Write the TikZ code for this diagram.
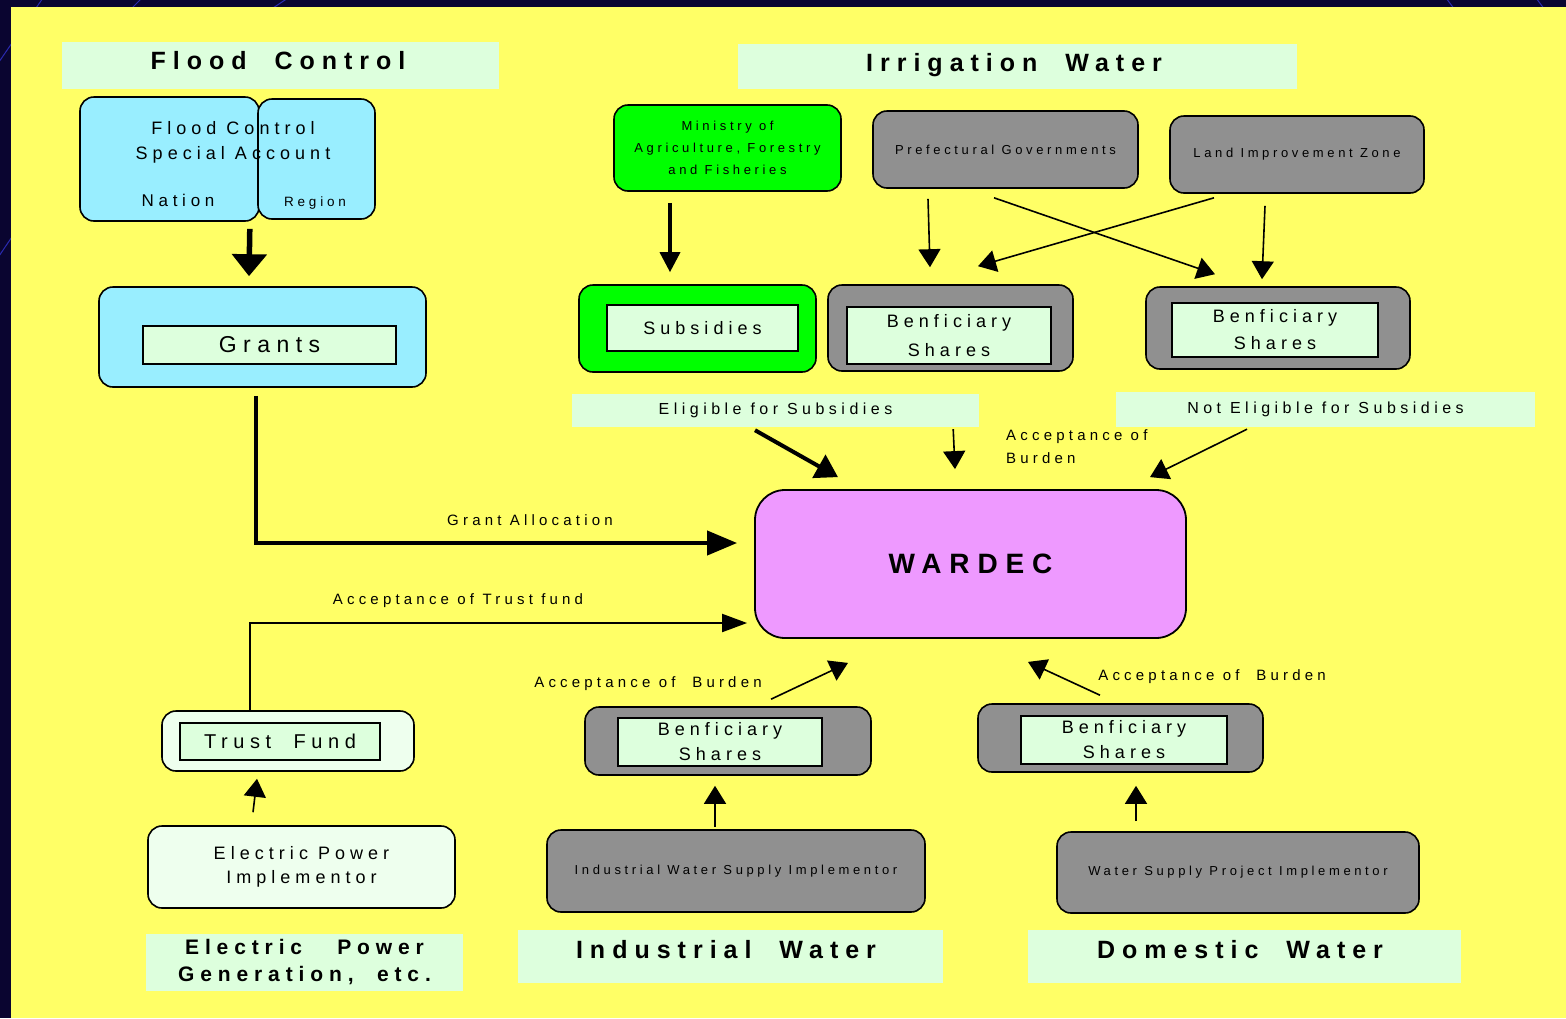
\documentclass[tikz,border=0pt]{standalone}
\usepackage{fontspec}
\setmainfont{Liberation Sans}
\newfontfamily\jfont[LetterSpace=28]{Liberation Sans}
\usetikzlibrary{arrows.meta,calc}
\definecolor{navy}{HTML}{0A0530}
\definecolor{streak}{HTML}{2A2AB0}
\definecolor{bgyellow}{HTML}{FFFF66}
\definecolor{paleg}{HTML}{DDFFDD}
\definecolor{mint}{HTML}{EEFFEE}
\definecolor{skyb}{HTML}{99EEFF}
\definecolor{leaf}{HTML}{00FF00}
\definecolor{stone}{HTML}{909090}
\definecolor{lilac}{HTML}{EE99FF}
\newcommand\jf[2]{\jfont\fontsize{#1}{#2}\selectfont}

\begin{document}
\begin{tikzpicture}[x=1pt,y=-1pt,
  every node/.style={font=\jfont,inner sep=0pt,align=center},
  band/.style={fill=paleg},
  rbox/.style={draw,line width=1.6pt,rounded corners=14pt},
  ibox/.style={draw,line width=1.8pt,fill=paleg},
  arr/.style={line width=1.6pt,-{Triangle[length=18pt,width=22pt]}},
  fat/.style={line width=4pt,-{Triangle[length=24pt,width=32pt]}}]

  %background
  \fill[navy] (0,0) rectangle (1566,1018);
  \useasboundingbox (0,0) rectangle (1566,1018);
  \draw[streak,line width=1pt] (-10,75) -- (45,-5);
  \draw[streak,line width=1pt] (110,30) -- (150,-10);
  \draw[streak,line width=1pt] (240,30) -- (300,-10);
  \draw[streak,line width=1pt] (1440,-10) -- (1470,30);
  \draw[streak,line width=1pt] (1530,-10) -- (1560,30);
  \draw[streak,line width=1pt] (-5,262) -- (20,225);
  \fill[bgyellow] (11,7) rectangle (1566,1018);

  %titles
  \node[band,minimum width=437,minimum height=47] (fctitle) at (280.5,65.5) {};
  \node[font=\jf{25}{30}\bfseries] (fctext) at (278,61) {Flood~~Control};
  \node[band,minimum width=559,minimum height=45] (irtitle) at (1017.5,66.5) {};
  \node[font=\jf{25}{30}\bfseries] (irtext) at (1014,65) {Irrigation~~Water};
  \node[band,minimum width=317,minimum height=57,font=\jf{21}{27}\bfseries] (eptitle) at (304.5,962) {Electric~~~Power\\Generation,~~etc.};
  \node[band,minimum width=425,minimum height=53] (iwtitle) at (730.5,956.5) {};
  \node[font=\jf{25}{30}\bfseries] (iwtext) at (726,950) {Industrial~~Water};
  \node[band,minimum width=433,minimum height=53] (dwtitle) at (1244.5,956.5) {};
  \node[font=\jf{25}{30}\bfseries] (dwtext) at (1240,950) {Domestic~~Water};
  \node[band,minimum width=407,minimum height=33,font=\jf{16}{20}] (elig) at (775.5,410.5) {Eligible for Subsidies};
  \node[band,minimum width=419,minimum height=35,font=\jf{16}{20}] (notelig) at (1325.5,409.5) {Not Eligible for Subsidies};

  %flood control
  \node[rbox,fill=skyb,minimum width=179,minimum height=124] (nation) at (169.5,159) {};
  \node[rbox,fill=skyb,minimum width=117,minimum height=120] (region) at (316.5,159) {};
  \node[font=\jf{18}{25}] (fcacc) at (233,142) {Flood Control\\Special Account};
  \node[font=\jf{17}{20}] (nattext) at (178,200) {Nation};
  \node[font=\jf{13.5}{16}] (regtext) at (315,203) {Region};
  \node[rbox,fill=skyb,minimum width=327,minimum height=100] (grants) at (262.5,337) {};
  \node[ibox,minimum width=253,minimum height=38,font=\jf{23}{26}] (grantsin) at (269.5,345) {Grants};

  %electric power
  \node[rbox,fill=mint,minimum width=252,minimum height=60] (trust) at (288,741) {};
  \node[ibox,minimum width=200,minimum height=37,font=\jf{20}{24}] (trustin) at (280,741.5) {Trust~~Fund};
  \node[rbox,fill=mint,minimum width=307,minimum height=82,font=\jf{18}{24}] (elec) at (301.5,867) {Electric Power\\Implementor};

  %irrigation
  \node[rbox,fill=leaf,minimum width=227,minimum height=86,font=\jf{13}{22}] (minist) at (727.5,148) {Ministry of\\Agriculture, Forestry\\and Fisheries};
  \node[rbox,fill=stone,minimum width=265,minimum height=77,font=\jf{13}{16}] (pref) at (1005.5,149.5) {Prefectural Governments};
  \node[rbox,fill=stone,minimum width=254,minimum height=77,font=\jf{13}{16}] (land) at (1297,154.5) {Land Improvement Zone};
  \node[rbox,fill=leaf,minimum width=237,minimum height=87] (subs) at (697.5,328.5) {};
  \node[ibox,minimum width=191,minimum height=46,font=\jf{18}{22}] (subsin) at (702.5,328) {Subsidies};
  \node[rbox,fill=stone,minimum width=245,minimum height=86] (bsa) at (950.5,328) {};
  \node[ibox,minimum width=204,minimum height=57,font=\jf{18}{29}] (bsain) at (949,335.5) {Benficiary\\Shares};
  \node[rbox,fill=stone,minimum width=264,minimum height=82] (bsb) at (1278,328) {};
  \node[ibox,minimum width=206,minimum height=54,font=\jf{18}{27}] (bsbin) at (1275,330) {Benficiary\\Shares};

  %wardec
  \node[draw,line width=1.8pt,rounded corners=30pt,fill=lilac,minimum width=431,minimum height=148,font=\jf{28}{32}\bfseries] (wardec) at (970.5,564) {WARDEC};

  %industrial and domestic
  \node[rbox,fill=stone,minimum width=286,minimum height=68] (indbs) at (728,741) {};
  \node[ibox,minimum width=204,minimum height=48,font=\jf{18}{25}] (indbsin) at (720,742) {Benficiary\\Shares};
  \node[rbox,fill=stone,minimum width=285,minimum height=68] (dombs) at (1120.5,738) {};
  \node[ibox,minimum width=206,minimum height=48,font=\jf{18}{25}] (dombsin) at (1124,740) {Benficiary\\Shares};
  \node[rbox,fill=stone,minimum width=378,minimum height=82,font=\jf{13}{16}] (indimp) at (736,871) {Industrial Water Supply Implementor};
  \node[rbox,fill=stone,minimum width=362,minimum height=81,font=\jf{13}{16}] (domimp) at (1238,872.5) {Water Supply Project Implementor};

  %labels
  \node[font=\jf{15}{18}] (galloc) at (530,520) {Grant Allocation};
  \node[font=\jf{15}{18}] (tfacc) at (458,601) {Acceptance of Trust fund};
  \node[align=left,anchor=west,font=\jf{15}{23}] (irracc) at (1006,447) {Acceptance of\\Burden};
  \node[font=\jf{15}{18}] (indacc) at (648,684) {Acceptance of~~Burden};
  \node[font=\jf{15}{18}] (domacc) at (1212,677) {Acceptance of~~Burden};

  %arrows
  \draw[fat,line width=5.5pt,-{Triangle[length=22pt,width=34pt]}] ([shift={(-10,7)}]nation.south east) -- ([shift={(-13.5,-10)}]grants.north);
  \draw[line width=4pt,-{Triangle[length=30pt,width=24pt]}] ([shift={(-6.5,8)}]grants.south) |- ([shift={(-17,-21)}]wardec.west);
  \draw[line width=2pt,-{Triangle[length=25pt,width=18pt]}] ([shift={(-38,0)}]trust.north) |- ([shift={(-7,59)}]wardec.west);
  \draw[arr] ([shift={(-48.5,-13)}]elec.north) -- ([shift={(-31,7)}]trust.south);
  \draw[fat,line width=3.5pt,-{Triangle[length=20pt,width=20pt]}] ([shift={(-57.5,11)}]minist.south) -- ([shift={(-27.5,-12)}]subs.north);
  \draw[arr] ([shift={(-77.5,10)}]pref.south) -- ([shift={(-20.5,-17)}]bsa.north);
  \draw[arr] ([shift={(-11.5,9)}]pref.south) -- ([shift={(-63,-12)}]bsb.north);
  \draw[arr] ([shift={(-83,4)}]land.south) -- ([shift={(27.5,-18)}]bsa.north);
  \draw[arr] ([shift={(-32,12)}]land.south) -- ([shift={(-16,-7)}]bsb.north);
  \draw[fat,-{Triangle[length=22pt,width=26pt]}] ([shift={(-20.5,3)}]elig.south) -- ([shift={(-132.5,-12)}]wardec.north);
  \draw[arr] ([shift={(-26,2)}]elig.south east) -- ([shift={(-15.5,-20)}]wardec.north);
  \draw[arr] ([shift={(-78.5,2)}]notelig.south) -- ([shift={(179.5,-12)}]wardec.north);
  \draw[arr] ([shift={(43,-7)}]indbs.north) -- ([shift={(-122.5,24)}]wardec.south);
  \draw[arr] ([shift={(-20.5,-8)}]dombs.north) -- ([shift={(57.5,23)}]wardec.south);
  \draw[arr] ([shift={(-21,-2)}]indimp.north) -- ([shift={(-13,10)}]indbs.south);
  \draw[arr] ([shift={(-102,-10)}]domimp.north) -- ([shift={(15.5,13)}]dombs.south);
\end{tikzpicture}
\end{document}
